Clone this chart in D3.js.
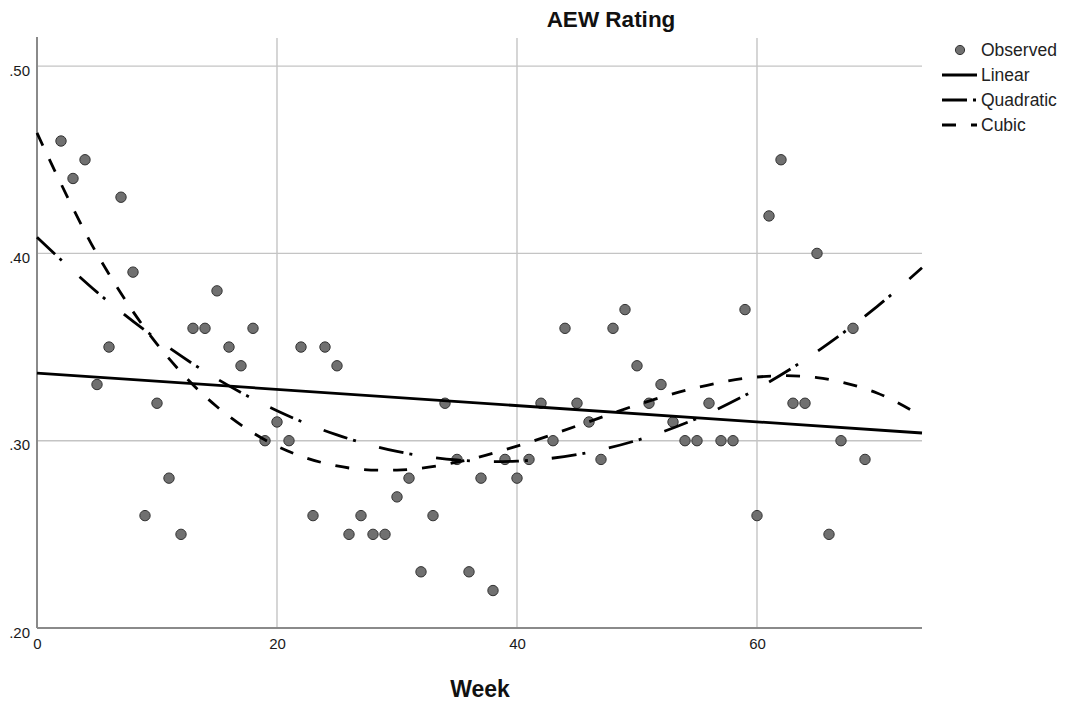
<!DOCTYPE html>
<html>
<head>
<meta charset="utf-8">
<script src="https://cdn.jsdelivr.net/npm/d3@7/dist/d3.min.js"></script>
<style>
  html, body { margin: 0; padding: 0; background: #fff; }
  svg { display: block; }
  text { font-family: "Liberation Sans", Arial, sans-serif; }
  .tick text { font-size: 15px; fill: #1a1a1a; }
</style>
</head>
<body>
<svg id="chart" width="1067" height="703"></svg>
<script>
// ---- data ----
const weeks = [2,3,4,5,6,7,8,9,10,11,12,13,14,15,16,17,18,19,20,21,22,23,24,25,26,27,28,29,30,31,32,33,34,35,36,37,38,39,40,41,42,43,44,45,46,47,48,49,50,51,52,53,54,55,56,57,58,59,60,61,62,63,64,65,66,67,68,69];
const ratings = [.46,.44,.45,.33,.35,.43,.39,.26,.32,.28,.25,.36,.36,.38,.35,.34,.36,.30,.31,.30,.35,.26,.35,.34,.25,.26,.25,.25,.27,.28,.23,.26,.32,.29,.23,.28,.22,.29,.28,.29,.32,.30,.36,.32,.31,.29,.36,.37,.34,.32,.33,.31,.30,.30,.32,.30,.30,.37,.26,.42,.45,.32,.32,.40,.25,.30,.36,.29];

// fitted curves
const linearX = [0, 73.75];
const linearY = [.3361, .3041];
const fitX = [0,5,10,15,20,25,30,35,40,45,50,55,60,65,70,73.75];
const quadraticY = [.4086,.3793,.3542,.3330,.3160,.3031,.2943,.2897,.2891,.2926,.3002,.3119,.3277,.3476,.3716,.3923];
const cubicY = [.4643,.3997,.3516,.3181,.2971,.2865,.2843,.2885,.2971,.3079,.3191,.3284,.3340,.3337,.3255,.3130];

const xTicks = [0, 20, 40, 60];
const yTicks = [.20, .30, .40, .50];
const legendItems = ["Observed", "Linear", "Quadratic", "Cubic"];
const title = "AEW Rating";
const xTitle = "Week";

// ---- layout ----
const svg = d3.select("#chart");
const L = 37, R = 922, T = 38, B = 628;
const x = d3.scaleLinear().domain([0, 73.75]).range([L, R]);
const y = d3.scaleLinear().domain([0.20, 0.515]).range([B, T]);

const styles = {
  Linear: null,
  Quadratic: "25,6,3,24",
  Cubic: "14,15"
};

// grid
const grid = svg.append("g");
grid.selectAll("line.v").data(xTicks.filter(d => d > 0)).join("line")
  .attr("x1", d => x(d)).attr("x2", d => x(d))
  .attr("y1", T).attr("y2", B)
  .attr("stroke", "#c4c4c4").attr("stroke-width", 1.4);
grid.selectAll("line.h").data(yTicks.filter(d => d > 0.2)).join("line")
  .attr("x1", L).attr("x2", R)
  .attr("y1", d => y(d)).attr("y2", d => y(d))
  .attr("stroke", "#c4c4c4").attr("stroke-width", 1.4);

// axes
const xAxis = d3.axisBottom(x).tickValues(xTicks).tickFormat(d3.format("d")).tickSize(0).tickPadding(12);
const yAxis = d3.axisLeft(y).tickValues(yTicks).tickFormat(d => d3.format(".2f")(d).replace(/^0/, "")).tickSize(0).tickPadding(7);

const gx = svg.append("g").attr("transform", `translate(0,${B})`).call(xAxis);
const gy = svg.append("g").attr("transform", `translate(${L},0)`).call(yAxis);
[gx, gy].forEach(g => {
  g.attr("font-size", 15).attr("font-family", "'Liberation Sans', Arial, sans-serif");
  g.select(".domain").remove();
  g.selectAll("text").attr("font-size", 15).style("font-size", "15px").attr("fill", "#1a1a1a");
});
gy.selectAll("text").attr("dy", "0.6em").attr("dx", "0");
gx.selectAll("text").attr("dy", "0.6em");

svg.append("line").attr("x1", L).attr("x2", L).attr("y1", T - 1).attr("y2", B)
  .attr("stroke", "#8a8a8a").attr("stroke-width", 2);
svg.append("line").attr("x1", L).attr("x2", R).attr("y1", B).attr("y2", B)
  .attr("stroke", "#8a8a8a").attr("stroke-width", 2);

// points
svg.append("g").selectAll("circle").data(weeks.map((w, i) => [w, ratings[i]])).join("circle")
  .attr("cx", d => x(d[0])).attr("cy", d => y(d[1])).attr("r", 5.2)
  .attr("fill", "#707070").attr("stroke", "#333").attr("stroke-width", 1);

// fit lines
const line = d3.line().x(d => x(d[0])).y(d => y(d[1])).curve(d3.curveCatmullRom.alpha(0.5));
const fits = [
  { name: "Linear", pts: linearX.map((v, i) => [v, linearY[i]]) },
  { name: "Quadratic", pts: fitX.map((v, i) => [v, quadraticY[i]]) },
  { name: "Cubic", pts: fitX.map((v, i) => [v, cubicY[i]]) }
];
svg.append("g").selectAll("path").data(fits).join("path")
  .attr("d", d => line(d.pts))
  .attr("fill", "none").attr("stroke", "#000").attr("stroke-width", 2.8)
  .attr("stroke-dasharray", d => styles[d.name]);

// title
svg.append("text").attr("x", 611).attr("y", 27).attr("text-anchor", "middle")
  .attr("font-size", 22.5).attr("font-weight", "bold").attr("fill", "#111").text(title);
svg.append("text").attr("x", 480).attr("y", 697).attr("text-anchor", "middle")
  .attr("font-size", 23).attr("font-weight", "bold").attr("fill", "#111").text(xTitle);

// legend
const lg = svg.append("g");
legendItems.forEach((name, i) => {
  const cy = 50 + i * 25;
  if (name === "Observed") {
    lg.append("circle").attr("cx", 960).attr("cy", cy).attr("r", 4.6)
      .attr("fill", "#707070").attr("stroke", "#333").attr("stroke-width", 1);
  } else {
    lg.append("line").attr("x1", 942).attr("x2", 977).attr("y1", cy).attr("y2", cy)
      .attr("stroke", "#000").attr("stroke-width", 2.8)
      .attr("stroke-dasharray", styles[name]);
  }
  lg.append("text").attr("x", 981).attr("y", cy + 6).attr("font-size", 17.5)
    .attr("fill", "#222").text(name);
});
</script>
</body>
</html>
